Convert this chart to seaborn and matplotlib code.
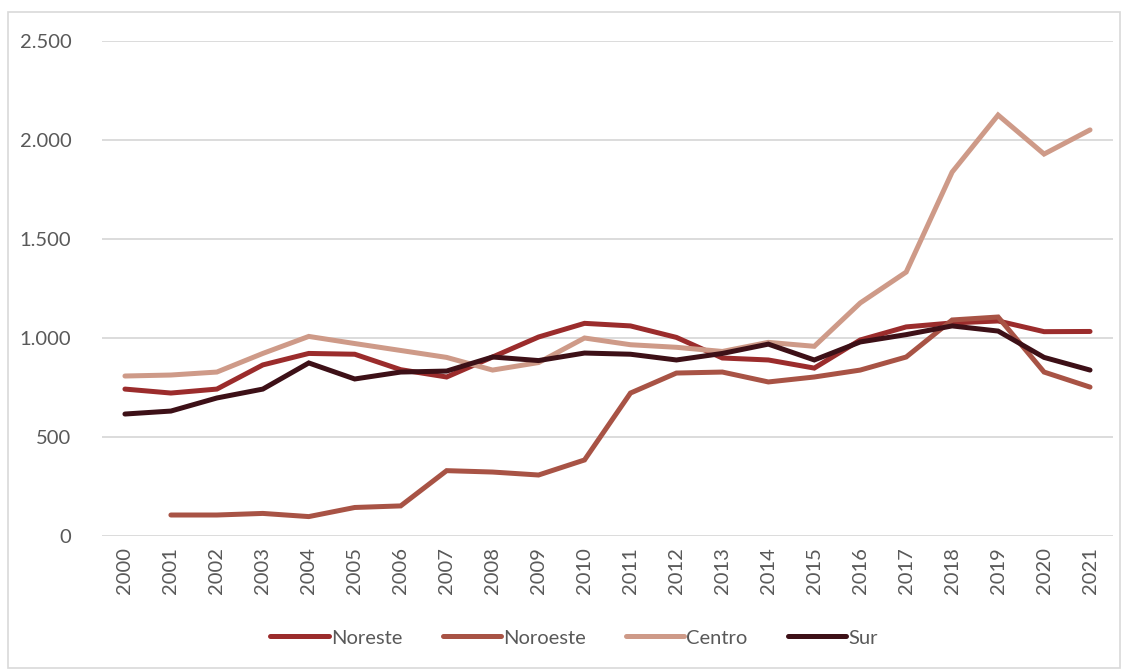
import pandas as pd
import numpy as np
import matplotlib.pyplot as plt
import matplotlib.ticker as mticker
from matplotlib.patches import Rectangle
import seaborn as sns

years = list(range(2000, 2022))
noreste = [742, 722, 742, 864, 922, 918, 840, 803, 904, 1005, 1074, 1061, 1003, 899,
           889, 848, 990, 1056, 1076, 1086, 1032, 1033]
noroeste = [np.nan, 106, 106, 114, 98, 144, 152, 330, 323, 308, 384, 722, 823, 828,
            778, 803, 838, 904, 1091, 1106, 828, 752]
centro = [808, 813, 828, 922, 1008, 972, 937, 902, 838, 876, 1000, 966, 953, 932,
          978, 958, 1177, 1333, 1838, 2126, 1929, 2051]
sur = [616, 631, 697, 742, 874, 793, 828, 833, 904, 886, 924, 918, 889, 922,
       969, 889, 980, 1017, 1061, 1035, 902, 838]

series = ["Noreste", "Noroeste", "Centro", "Sur"]
colors = ["#9B2C2C", "#A85345", "#CE9A88", "#3D1017"]

df = pd.DataFrame({"year": years, "Noreste": noreste, "Noroeste": noroeste,
                   "Centro": centro, "Sur": sur})
long = df.melt(id_vars="year", var_name="region", value_name="value")

sns.set_style("white")
plt.rcParams["font.family"] = ["Lato", "DejaVu Sans"]

fig = plt.figure(figsize=(11.28, 6.71), dpi=100)
ax = fig.add_axes([0.0904, 0.2012, 0.8963, 0.7377])

sns.lineplot(data=long, x="year", y="value", hue="region", hue_order=series,
             palette=colors, linewidth=3.6, ax=ax, legend=True)
for line in ax.lines:
    line.set_solid_capstyle("round")
    line.set_solid_joinstyle("miter")

ax.set_xlim(1999.5, 2021.5)
ax.set_ylim(0, 2500)
ax.set_xticks(years)
ax.set_xticklabels([str(y) for y in years], rotation=90, fontsize=14.5, color="#595959")
ax.yaxis.set_major_locator(mticker.MultipleLocator(500))
ax.yaxis.set_major_formatter(mticker.FuncFormatter(lambda v, p: f"{int(v):,}".replace(",", ".")))
ax.tick_params(axis="y", labelsize=14.5, labelcolor="#595959", length=0, pad=22)
ax.tick_params(axis="x", length=0, pad=8)
ax.grid(axis="y", color="#D9D9D9", linewidth=1.3)
ax.set_axisbelow(True)
for s in ax.spines.values():
    s.set_visible(False)
ax.set_xlabel("")
ax.set_ylabel("")

handles, labels = ax.get_legend_handles_labels()
leg = ax.legend(handles, labels, loc="center", bbox_to_anchor=(0.467, -0.206),
                ncol=4, frameon=False, fontsize=14.5, handlelength=2.9,
                handletextpad=0.1, columnspacing=2.0, labelcolor="#595959")
for h in leg.get_lines():
    h.set_linewidth(3.6)
    h.set_solid_capstyle("round")

fig.patches.append(Rectangle((8 / 1128, 1 - 668 / 671), 1112 / 1128, 656 / 671,
                             transform=fig.transFigure, fill=False,
                             edgecolor="#D9D9D9", linewidth=1.2))

fig.savefig("out.png", dpi=100)
